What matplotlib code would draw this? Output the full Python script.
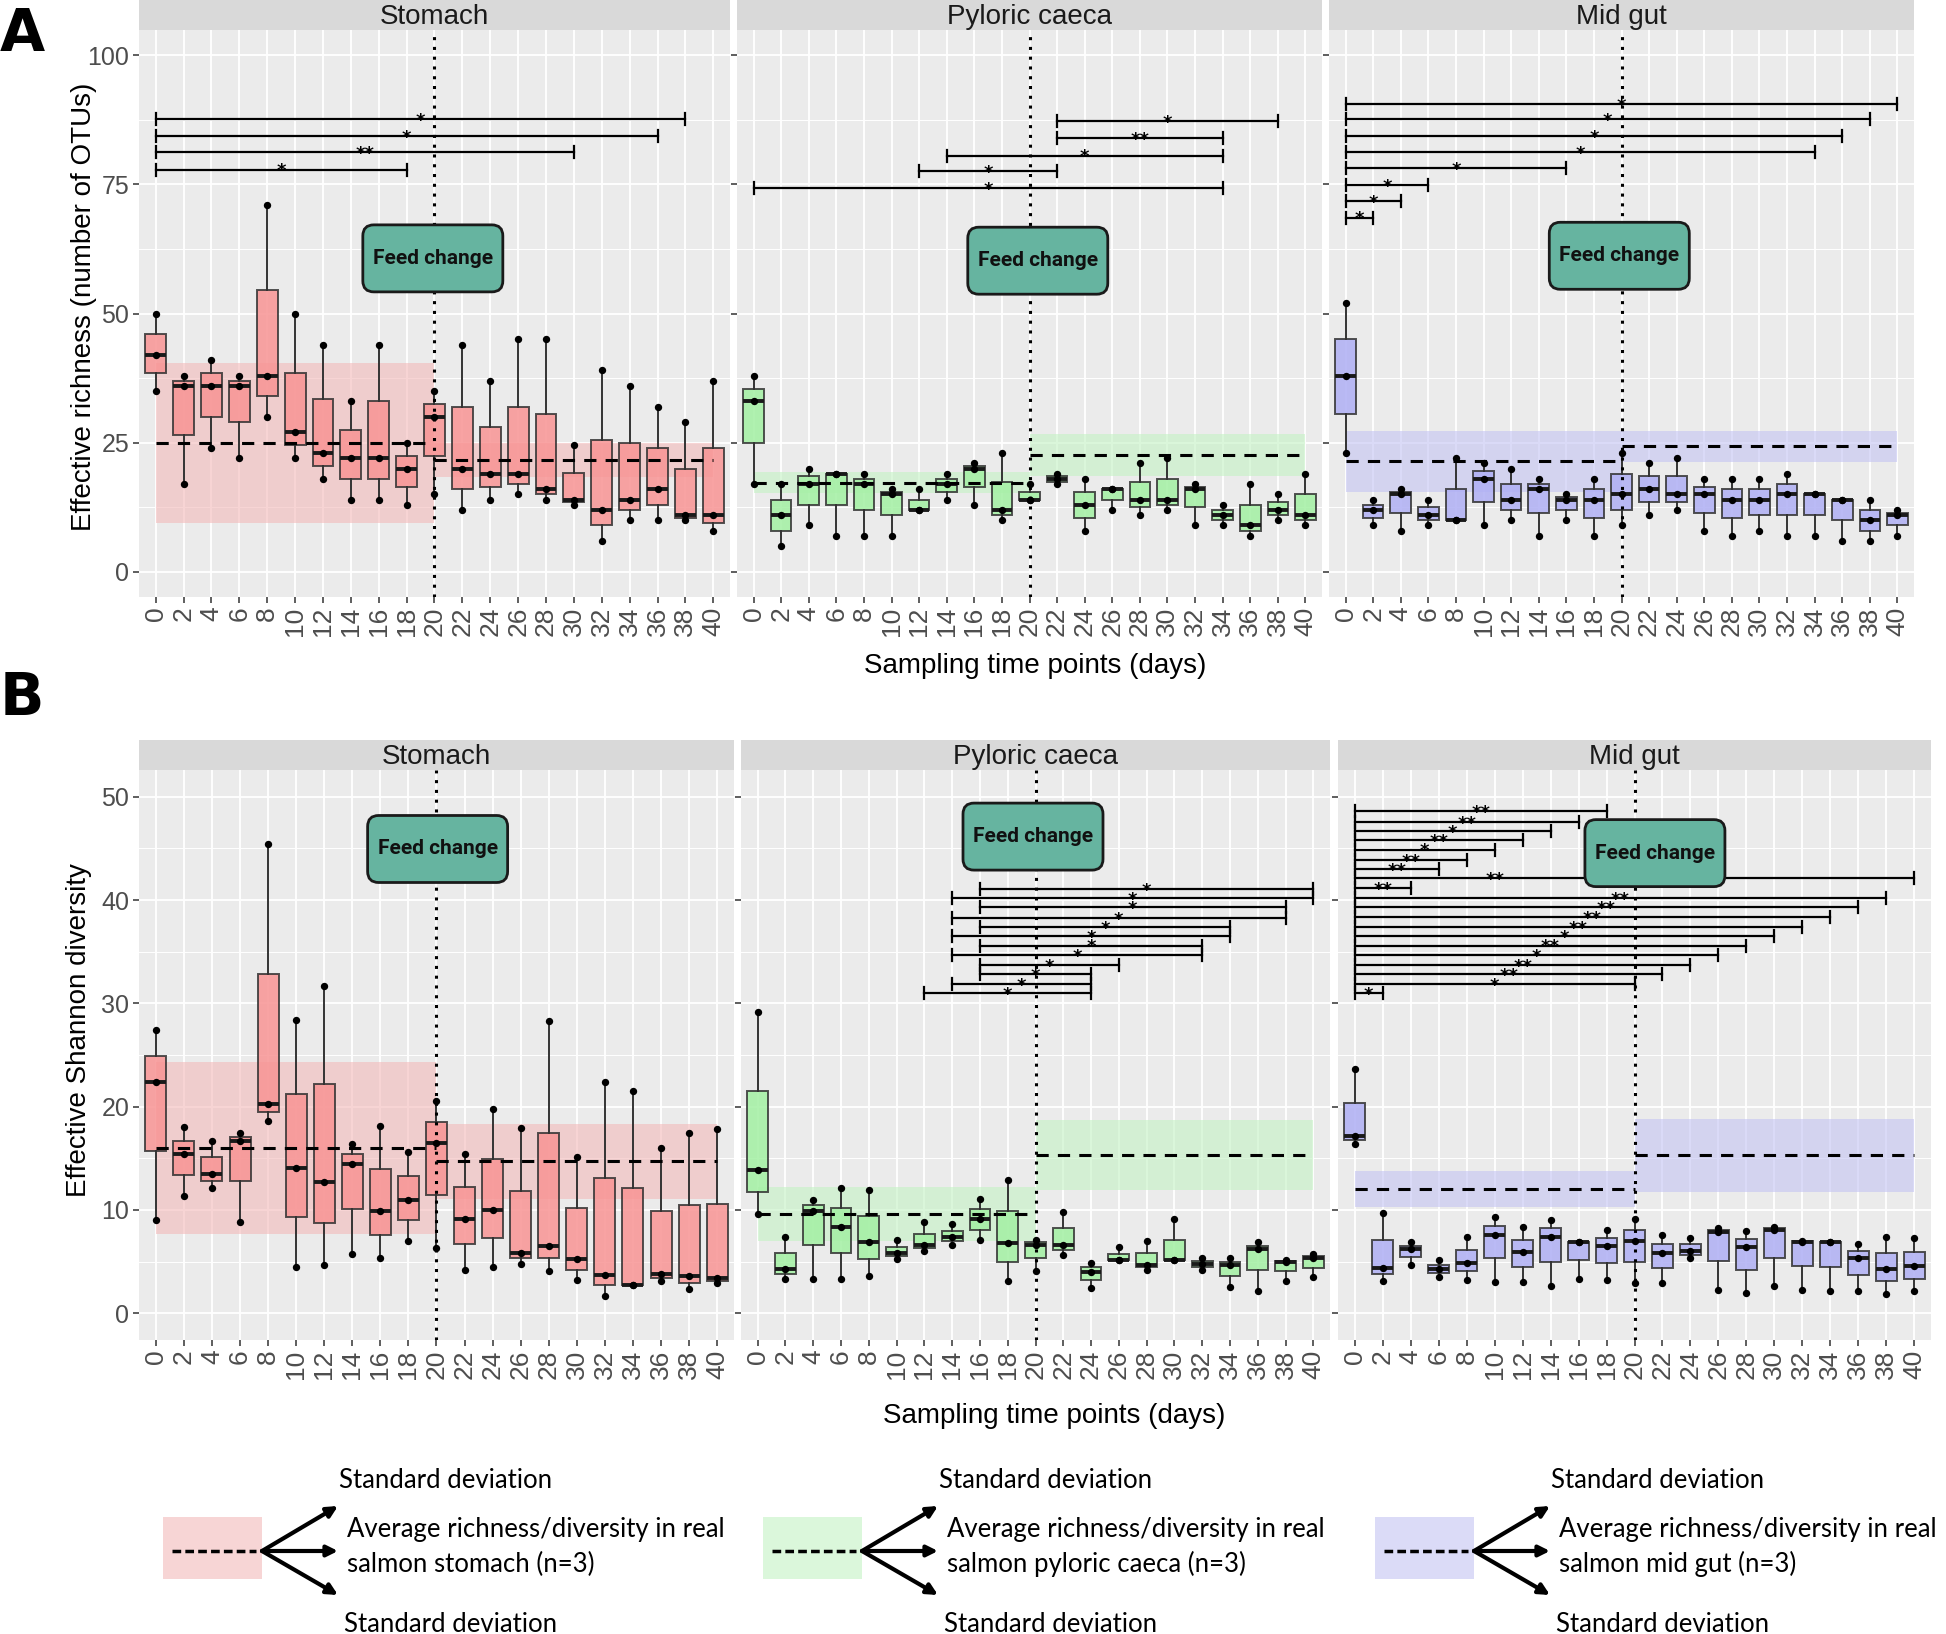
import matplotlib
matplotlib.use("Agg")
import matplotlib.pyplot as plt
import numpy as np
from matplotlib.patches import FancyBboxPatch, Rectangle
from matplotlib.ticker import MultipleLocator

plt.rcParams['font.family'] = ['Liberation Sans', 'DejaVu Sans']

W, H = 1946, 1634

days = list(range(0, 41, 2))
day_labels = [str(d) for d in days]
sections = ['Stomach', 'Pyloric caeca', 'Mid gut']

# effective richness, three fish per sampling day (min, median, max)
rich_stomach = [[35, 42, 50], [17, 36, 38], [24, 36, 41], [22, 36, 38], [30, 38, 71],
                [22, 27, 50], [18, 23, 44], [14, 22, 33], [14, 22, 44], [13, 20, 25],
                [15, 30, 35], [12, 20, 44], [14, 19, 37], [15, 19, 45], [14, 16, 45],
                [13, 14, 24.5], [6, 12, 39], [10, 14, 36], [10, 16, 32], [10, 11, 29],
                [8, 11, 37]]
rich_pyloric = [[17, 33, 38], [5, 11, 17], [9, 17, 20], [7, 19, 19], [7, 17, 19],
                [7, 15, 16], [12, 12, 16], [14, 17, 19], [13, 20, 21], [10, 12, 23],
                [14, 14, 17], [17, 18, 19], [8, 13, 18], [12, 16, 16], [11, 14, 21],
                [12, 14, 22], [9, 16, 17], [9, 11, 13], [7, 9, 17], [10, 12, 15],
                [9, 11, 19]]
rich_midgut = [[23, 38, 52], [9, 12, 14], [8, 15, 16], [9, 11, 14], [10, 10, 22],
               [9, 18, 21], [10, 14, 20], [7, 16, 18], [10, 14, 15], [7, 14, 18],
               [9, 15, 23], [11, 16, 21], [12, 15, 22], [8, 15, 18], [7, 14, 18],
               [8, 14, 18], [7, 15, 19], [7, 15, 15], [6, 14, 14], [6, 10, 14],
               [7, 11, 12]]

# effective Shannon diversity
shan_stomach = [[9.0, 22.4, 27.4], [11.3, 15.4, 18.0], [12.1, 13.5, 16.7], [8.8, 16.7, 17.4],
                [18.6, 20.3, 45.4], [4.5, 14.1, 28.4], [4.7, 12.7, 31.7], [5.7, 14.4, 16.4],
                [5.3, 9.9, 18.1], [7.0, 11.0, 15.6], [6.3, 16.5, 20.5], [4.2, 9.1, 15.4],
                [4.5, 10.0, 19.8], [4.8, 5.8, 17.9], [4.1, 6.5, 28.3], [3.2, 5.2, 15.1],
                [1.7, 3.7, 22.4], [2.7, 2.7, 21.5], [3.1, 3.8, 16.0], [2.3, 3.6, 17.4],
                [2.9, 3.4, 17.8]]
shan_pyloric = [[9.6, 13.9, 29.2], [3.3, 4.3, 7.4], [3.3, 9.9, 11.0], [3.3, 8.3, 12.1],
                [3.6, 6.9, 11.9], [5.2, 5.8, 7.1], [6.0, 6.6, 8.8], [6.6, 7.4, 8.6],
                [7.1, 9.1, 11.1], [3.1, 6.8, 12.9], [4.1, 6.6, 7.1], [5.6, 6.6, 9.8],
                [2.4, 4.0, 4.9], [5.1, 5.1, 6.4], [4.2, 4.7, 7.0], [5.1, 5.1, 9.1],
                [4.2, 4.8, 5.3], [2.5, 4.7, 5.3], [2.1, 6.2, 6.9], [3.1, 5.0, 5.1],
                [3.5, 5.3, 5.7]]
shan_midgut = [[16.4, 17.2, 23.6], [3.1, 4.4, 9.7], [4.7, 6.2, 6.9], [3.5, 4.3, 5.1],
               [3.2, 4.9, 7.4], [3.0, 7.6, 9.3], [3.0, 5.9, 8.3], [2.6, 7.4, 9.0],
               [3.3, 6.9, 6.9], [3.2, 6.5, 8.1], [2.9, 7.0, 9.1], [2.9, 5.8, 7.6],
               [5.3, 6.0, 7.3], [2.2, 7.9, 8.2], [2.0, 6.4, 8.0], [2.6, 8.1, 8.3],
               [2.2, 6.9, 7.0], [2.1, 6.9, 6.9], [2.1, 5.3, 6.7], [1.9, 4.3, 7.4],
               [2.1, 4.6, 7.3]]

# real salmon reference (mean, sd) before / after the feed change
rich_mean_pre = [25.0, 17.3, 21.4]
rich_sd_pre = [15.5, 2.05, 5.85]
rich_mean_post = [21.7, 22.7, 24.3]
rich_sd_post = [3.3, 4.05, 3.0]
shan_mean_pre = [16.0, 9.6, 12.0]
shan_sd_pre = [8.35, 2.65, 1.75]
shan_mean_post = [14.7, 15.3, 15.3]
shan_sd_post = [3.65, 3.4, 3.55]

# significance brackets: (day from, day to, height, label)
rich_sig_stomach = [(0, 38, 87.7, '*'), (0, 36, 84.4, '*'), (0, 30, 81.2, '**'), (0, 18, 77.9, '*')]
rich_sig_pyloric = [(22, 38, 87.3, '*'), (22, 34, 84.0, '**'), (14, 34, 80.6, '*'),
                    (12, 22, 77.6, '*'), (0, 34, 74.4, '*')]
rich_sig_midgut = [(0, 40, 90.5, '*'), (0, 38, 87.6, '*'), (0, 36, 84.4, '*'), (0, 34, 81.3, '*'),
                   (0, 16, 78.1, '*'), (0, 6, 74.9, '*'), (0, 4, 71.8, '*'), (0, 2, 68.6, '*')]
shan_sig_stomach = []
shan_sig_pyloric = [(16, 40, 41.1, '*'), (14, 40, 40.2, '*'), (16, 38, 39.3, '*'), (14, 38, 38.3, '*'),
                    (16, 34, 37.4, '*'), (14, 34, 36.5, '*'), (16, 32, 35.6, '*'), (14, 32, 34.7, '*'),
                    (16, 26, 33.7, '*'), (16, 24, 32.8, '*'), (14, 24, 31.9, '*'), (12, 24, 31.0, '*')]
shan_sig_midgut = [(0, 18, 48.6, '**'), (0, 16, 47.6, '**'), (0, 14, 46.7, '*'), (0, 12, 45.8, '**'),
                   (0, 10, 44.9, '*'), (0, 8, 43.9, '**'), (0, 6, 43.0, '**'), (0, 40, 42.1, '**', 10),
                   (0, 4, 41.2, '**'), (0, 38, 40.2, '**'), (0, 36, 39.3, '**'), (0, 34, 38.4, '**'),
                   (0, 32, 37.4, '**'), (0, 30, 36.5, '*'), (0, 28, 35.6, '**'), (0, 26, 34.7, '*'),
                   (0, 24, 33.7, '**'), (0, 22, 32.8, '**'), (0, 20, 31.9, '*'), (0, 2, 31.0, '*')]

box_colors = ['#F89494', '#A3F0A3', '#AFAFF4']
band_colors = ['#F3B9B9', '#C3F2C3', '#C3C3F3']
feed_fill = '#66B4A0'


def px_axes(x0, x1, ytop, ybot):
    return [x0 / W, 1 - ybot / H, (x1 - x0) / W, (ybot - ytop) / H]


def draw_panel(ax, data, i, mean_pre, sd_pre, mean_post, sd_post, sig, feed_xy,
               ylim, major, minor, show_y):
    ax.set_xlim(-0.6, 20.6)
    ax.set_ylim(*ylim)
    ax.set_facecolor('#EBEBEB')
    for s in ax.spines.values():
        s.set_visible(False)
    ax.yaxis.set_major_locator(MultipleLocator(major))
    ax.yaxis.set_minor_locator(MultipleLocator(minor))
    ax.set_xticks(range(len(days)))
    ax.set_xticklabels(day_labels, rotation=90, va='top')
    ax.grid(which='major', color='white', lw=1.3)
    ax.grid(which='minor', axis='y', color='white', lw=0.7)
    ax.set_axisbelow(True)
    ax.tick_params(which='major', length=4, width=1.1, color='#333333',
                   labelcolor='#4D4D4D', labelsize=18, pad=3)
    ax.tick_params(axis='x', labelsize=19)
    ax.tick_params(which='minor', length=0)
    if not show_y:
        ax.tick_params(axis='y', labelleft=False)

    idx = np.arange(len(days))
    # reference bands (mean +/- sd) before and after feed change
    for (a, b), m, sd in [((0, 10), mean_pre, sd_pre), ((10, 20), mean_post, sd_post)]:
        ax.add_patch(Rectangle((a, m - sd), b - a, 2 * sd, facecolor=band_colors[i],
                               alpha=0.6, lw=0, zorder=1.5))
        ax.plot([a, b], [m, m], color='black', lw=2.2, ls=(0, (4, 3)), zorder=4.5)

    ax.boxplot(data, positions=idx, widths=0.75, whis=(0, 100), patch_artist=True,
               showfliers=False, showcaps=False, manage_ticks=False,
               boxprops=dict(facecolor=box_colors[i], edgecolor='#333333', lw=1.4, alpha=0.85),
               whiskerprops=dict(color='#333333', lw=1.4),
               medianprops=dict(color='#1A1A1A', lw=2.8), zorder=3)
    vals = np.array(data, dtype=float)
    ax.scatter(np.repeat(idx, 3), vals.ravel(), s=28, color='black', zorder=4, lw=0)

    ax.axvline(10, color='black', lw=2.2, ls=(0, (1, 2.2)), zorder=5)

    bb = ax.get_position()
    ppx = bb.width * W / 21.2
    ppy = bb.height * H / (ylim[1] - ylim[0])
    tick = 6 / ppy
    for s in sig:
        a, b, y, lab = s[0] / 2, s[1] / 2, s[2], s[3]
        lx = s[4] / 2 if len(s) > 4 else (a + b) / 2
        ax.plot([a, b], [y, y], color='black', lw=1.6, zorder=5)
        ax.plot([a, a], [y - tick, y + tick], color='black', lw=1.6, zorder=5)
        ax.plot([b, b], [y - tick, y + tick], color='black', lw=1.6, zorder=5)
        ax.annotate(lab, xy=(lx, y), xytext=(0, -5), textcoords='offset points',
                    ha='center', va='baseline', fontsize=13, fontweight='bold',
                    family='DejaVu Sans', zorder=5)

    # "Feed change" label box
    cx, cy = feed_xy
    bw, bh = 140 / ppx, 67 / ppy
    ax.add_patch(FancyBboxPatch((cx - bw / 2, cy - bh / 2), bw, bh,
                                boxstyle="round,pad=0,rounding_size=%f" % (11 / ppx),
                                mutation_aspect=ppx / ppy, facecolor=feed_fill,
                                edgecolor='#1A1A1A', lw=2, zorder=6))
    ax.text(cx, cy, 'Feed change', ha='center', va='center', fontsize=15, fontweight='bold',
            family=['Roboto', 'DejaVu Sans'], color='#111111', zorder=7)


def strip(x0, x1, ytop, ybot, title):
    sax = fig.add_axes(px_axes(x0, x1, ytop, ybot))
    sax.set_facecolor('#D9D9D9')
    sax.set_xticks([])
    sax.set_yticks([])
    for s in sax.spines.values():
        s.set_visible(False)
    sax.text(0.5, 0.45, title, ha='center', va='center', fontsize=20, color='#1A1A1A',
             transform=sax.transAxes)


fig = plt.figure(figsize=(W / 100, H / 100), dpi=100)

cols_a = [(139, 730), (737, 1322), (1329, 1914)]
cols_b = [(139, 734), (741, 1330), (1338, 1931)]
rich_data = [rich_stomach, rich_pyloric, rich_midgut]
shan_data = [shan_stomach, shan_pyloric, shan_midgut]
rich_sig = [rich_sig_stomach, rich_sig_pyloric, rich_sig_midgut]
shan_sig = [shan_sig_stomach, shan_sig_pyloric, shan_sig_midgut]
feed_a = [(9.94, 60.7), (10.3, 60.25), (9.92, 61.2)]
feed_b = [(10.04, 44.95), (9.91, 46.15), (10.73, 44.55)]

for i in range(3):
    x0, x1 = cols_a[i]
    ax = fig.add_axes(px_axes(x0, x1, 30, 597))
    draw_panel(ax, rich_data[i], i, rich_mean_pre[i], rich_sd_pre[i], rich_mean_post[i],
               rich_sd_post[i], rich_sig[i], feed_a[i], (-4.84, 104.9), 25, 12.5, i == 0)
    strip(x0, x1, 0, 30, sections[i])

    x0, x1 = cols_b[i]
    ax = fig.add_axes(px_axes(x0, x1, 770, 1340))
    draw_panel(ax, shan_data[i], i, shan_mean_pre[i], shan_sd_pre[i], shan_mean_post[i],
               shan_sd_post[i], shan_sig[i], feed_b[i], (-2.6, 52.6), 10, 5, i == 0)
    strip(x0, x1, 740, 770, sections[i])

# overlay in pixel coordinates for titles and legend
ov = fig.add_axes([0, 0, 1, 1])
ov.set_xlim(0, W)
ov.set_ylim(H, 0)
ov.axis('off')

ov.text(0, 6, 'A', fontsize=42, fontweight='bold', family='DejaVu Sans', va='top', ha='left')
ov.text(0, 670, 'B', fontsize=42, fontweight='bold', family='DejaVu Sans', va='top', ha='left')
ov.text(84, 307, 'Effective richness (number of OTUs)', rotation=90, fontsize=20,
        ha='center', va='center')
ov.text(79, 1030, 'Effective Shannon diversity', rotation=90, fontsize=20,
        ha='center', va='center')
ov.text(1035, 666, 'Sampling time points (days)', fontsize=20, ha='center', va='center')
ov.text(1054, 1416, 'Sampling time points (days)', fontsize=20, ha='center', va='center')

legend_names = ['stomach', 'pyloric caeca', 'mid gut']
legend_left = [163, 763, 1375]
leg_font = ['Lato', 'DejaVu Sans']
for i in range(3):
    x0 = legend_left[i]
    ov.add_patch(Rectangle((x0, 1517), 99, 62, facecolor=band_colors[i], alpha=0.6, lw=0))
    ov.plot([x0 + 9, x0 + 93], [1551, 1551], color='black', lw=2.5, ls=(0, (2.5, 1.2)))
    for ey in (1506, 1551, 1595):
        ov.annotate('', xy=(x0 + 175, ey), xytext=(x0 + 99, 1551),
                    arrowprops=dict(arrowstyle='-|>', lw=3, color='black', mutation_scale=16,
                                    shrinkA=0, shrinkB=0))
    ov.text(x0 + 176, 1481, 'Standard deviation', fontsize=18.5, family=leg_font,
            ha='left', va='center')
    ov.text(x0 + 184, 1529, 'Average richness/diversity in real', fontsize=18.5,
            family=leg_font, ha='left', va='center')
    ov.text(x0 + 184, 1564, 'salmon %s (n=3)' % legend_names[i], fontsize=18.5,
            family=leg_font, ha='left', va='center')
    ov.text(x0 + 181, 1625, 'Standard deviation', fontsize=18.5, family=leg_font,
            ha='left', va='center')

fig.savefig('out.png', dpi=100)
